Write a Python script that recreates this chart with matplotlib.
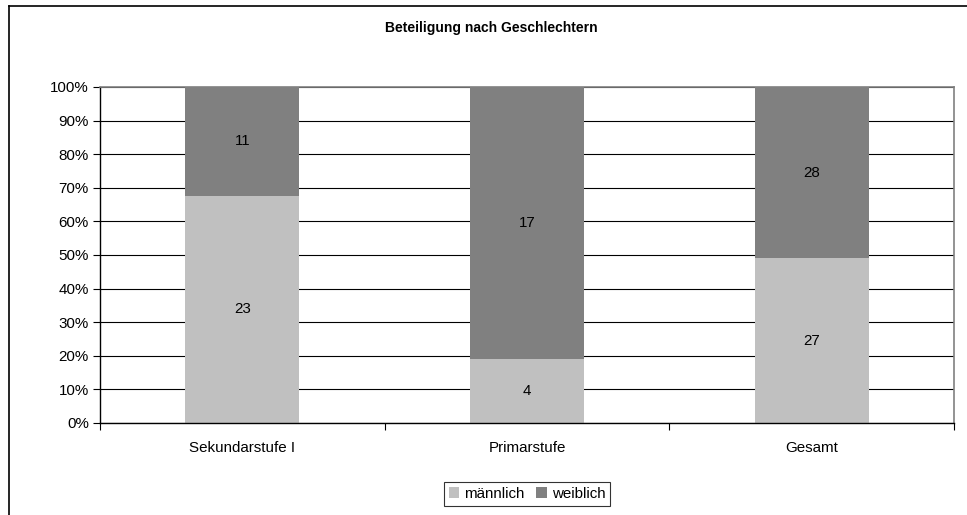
import matplotlib
matplotlib.use("Agg")
import matplotlib.pyplot as plt
import numpy as np
from matplotlib.ticker import PercentFormatter
from matplotlib.lines import Line2D

plt.rcParams['font.family'] = ['Liberation Sans', 'DejaVu Sans']

categories = ["Sekundarstufe I", "Primarstufe", "Gesamt"]
maennlich = [23, 4, 27]
weiblich = [11, 17, 28]
series_names = ["männlich", "weiblich"]
colors = ["#c0c0c0", "#808080"]
title = "Beteiligung nach Geschlechtern"

W, H = 967, 515
fig = plt.figure(figsize=(W / 100, H / 100), dpi=100)
ax = fig.add_axes([100 / W, 1 - 423 / H, 854 / W, 336 / H])

m = np.array(maennlich, float)
w = np.array(weiblich, float)
tot = m + w
mp = m / tot * 100
wp = w / tot * 100
x = np.arange(len(categories))

fs = 10.9

ax.set_axisbelow(True)
ax.yaxis.grid(True, color='black', linewidth=0.8)
b1 = ax.bar(x, mp, width=0.4, color=colors[0], label=series_names[0], zorder=2)
b2 = ax.bar(x, wp, bottom=mp, width=0.4, color=colors[1], label=series_names[1], zorder=2)

for xi, v, p in zip(x, m, mp):
    ax.text(xi, p / 2, f"{int(v)}", ha='center', va='center', fontsize=fs, zorder=3)
for xi, v, p, b in zip(x, w, wp, mp):
    ax.text(xi, b + p / 2, f"{int(v)}", ha='center', va='center', fontsize=fs, zorder=3)

ax.set_xlim(-0.5, len(categories) - 0.5)
ax.set_ylim(0, 100)
ax.set_yticks(np.arange(0, 101, 10))
ax.yaxis.set_major_formatter(PercentFormatter(decimals=0))
ax.set_xticks(x)
ax.set_xticklabels(categories, fontsize=fs)
ax.set_xticks(np.arange(-0.5, len(categories), 1), minor=True)
ax.tick_params(axis='x', which='major', length=0, pad=13)
ax.tick_params(axis='x', which='minor', length=5, direction='out', width=0.8)
ax.tick_params(axis='y', length=5, direction='out', width=0.8, labelsize=fs, pad=3)

for s in ['top', 'right']:
    ax.spines[s].set_color('#808080')
    ax.spines[s].set_linewidth(1.2)
for s in ['left', 'bottom']:
    ax.spines[s].set_color('black')
    ax.spines[s].set_linewidth(1.0)

fig.text(491 / W, 1 - 28 / H, title, ha='center', va='center', fontsize=10, fontweight='bold')

leg = fig.legend(handles=[b1, b2], labels=series_names, loc='center', bbox_to_anchor=(527 / W, 1 - 494 / H),
                 ncol=2, fontsize=fs, frameon=True, fancybox=False, edgecolor='black',
                 handlelength=0.7, handleheight=0.7, handletextpad=0.3, columnspacing=0.8,
                 borderpad=0.3)
leg.get_frame().set_linewidth(0.8)

# outer chart border (extends beyond image on right/bottom)
fig.add_artist(Line2D([8.5 / W, 8.5 / W], [0, 1 - 5.5 / H], transform=fig.transFigure, color='black', linewidth=1.2))
fig.add_artist(Line2D([8.5 / W, 1], [1 - 5.5 / H, 1 - 5.5 / H], transform=fig.transFigure, color='black', linewidth=1.2))

fig.savefig("out.png", dpi=100)
